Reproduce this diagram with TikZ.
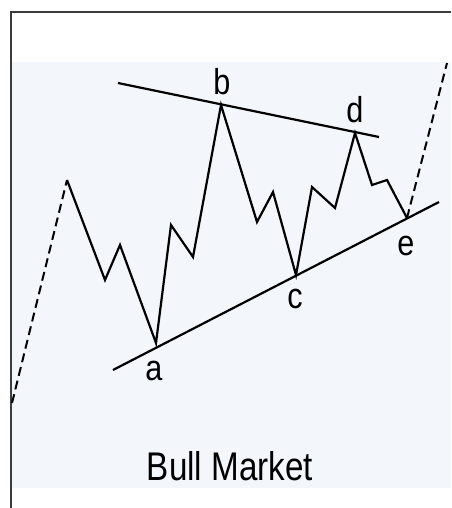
\documentclass[tikz,border=0pt]{standalone}
\usepackage{fontspec}
\setmainfont{Liberation Sans}
\usetikzlibrary{positioning}
\definecolor{paleblue}{RGB}{243,247,252}
\definecolor{framegray}{RGB}{60,60,60}

\begin{document}
\begin{tikzpicture}[
    x=1pt, y=-1pt,
    wave/.style = {draw=black, line width=2.2pt, line join=miter},
    trend/.style = {draw=black, line width=2.2pt},
    extension/.style = {draw=black, line width=2pt, dash pattern=on 9pt off 5pt},
    pointlabel/.style = {font=\fontsize{36}{37}\selectfont, inner sep=0pt},
    caption/.style = {font=\fontsize{40}{41}\selectfont, inner sep=0pt}
]
\useasboundingbox (0,0) rectangle (451,508);
\fill[white] (0,0) rectangle (451,508);
\fill[paleblue] (11,62) rectangle (451,488);

% Frame
\draw[framegray, line width=1.4pt] (11,508) -- (11,12) -- (451,12);

% Turning points
\coordinate (start) at (12,403);
\coordinate (p0) at (67,180);
\coordinate (p1) at (105,280);
\coordinate (p2) at (120,245);
\coordinate (pa) at (156,343);
\coordinate (p3) at (171,225);
\coordinate (p4) at (193,257);
\coordinate (pb) at (221,105);
\coordinate (p5) at (257,222);
\coordinate (p6) at (273,192);
\coordinate (pc) at (296,275);
\coordinate (p7) at (312,187);
\coordinate (p8) at (335,208);
\coordinate (pd) at (355,133);
\coordinate (p9) at (372,185);
\coordinate (p10) at (387,180);
\coordinate (pe) at (407,218);
\coordinate (finish) at (447,63);

% Trend line ends
\coordinate (top_l) at (118,83);
\coordinate (top_r) at (379,137);
\coordinate (low_l) at (113,370);
\coordinate (low_r) at (439,202);

% Trend lines
\draw [trend] (top_l) -- (top_r);
\draw [trend] (low_l) -- (low_r);

% Waves
\draw [extension] (start) -- (p0);
\draw [wave] (p0) -- (p1) -- (p2) -- (pa) -- (p3) -- (p4) -- (pb) -- (p5) -- (p6)
    -- (pc) -- (p7) -- (p8) -- (pd) -- (p9) -- (p10) -- (pe);
\draw [extension] (pe) -- (finish);

% Labels
\node (lbl_a) [pointlabel] at (154,371) {\scalebox{0.85}[1]{a}};
\node (lbl_b) [pointlabel] at (222,82) {\scalebox{0.85}[1]{b}};
\node (lbl_c) [pointlabel] at (295,299) {\scalebox{0.85}[1]{c}};
\node (lbl_d) [pointlabel] at (355,110) {\scalebox{0.85}[1]{d}};
\node (lbl_e) [pointlabel] at (406,246) {\scalebox{0.85}[1]{e}};

\node (title) [caption] at (230,466) {\scalebox{0.83}[1]{Bull Market}};

\end{tikzpicture}
\end{document}
